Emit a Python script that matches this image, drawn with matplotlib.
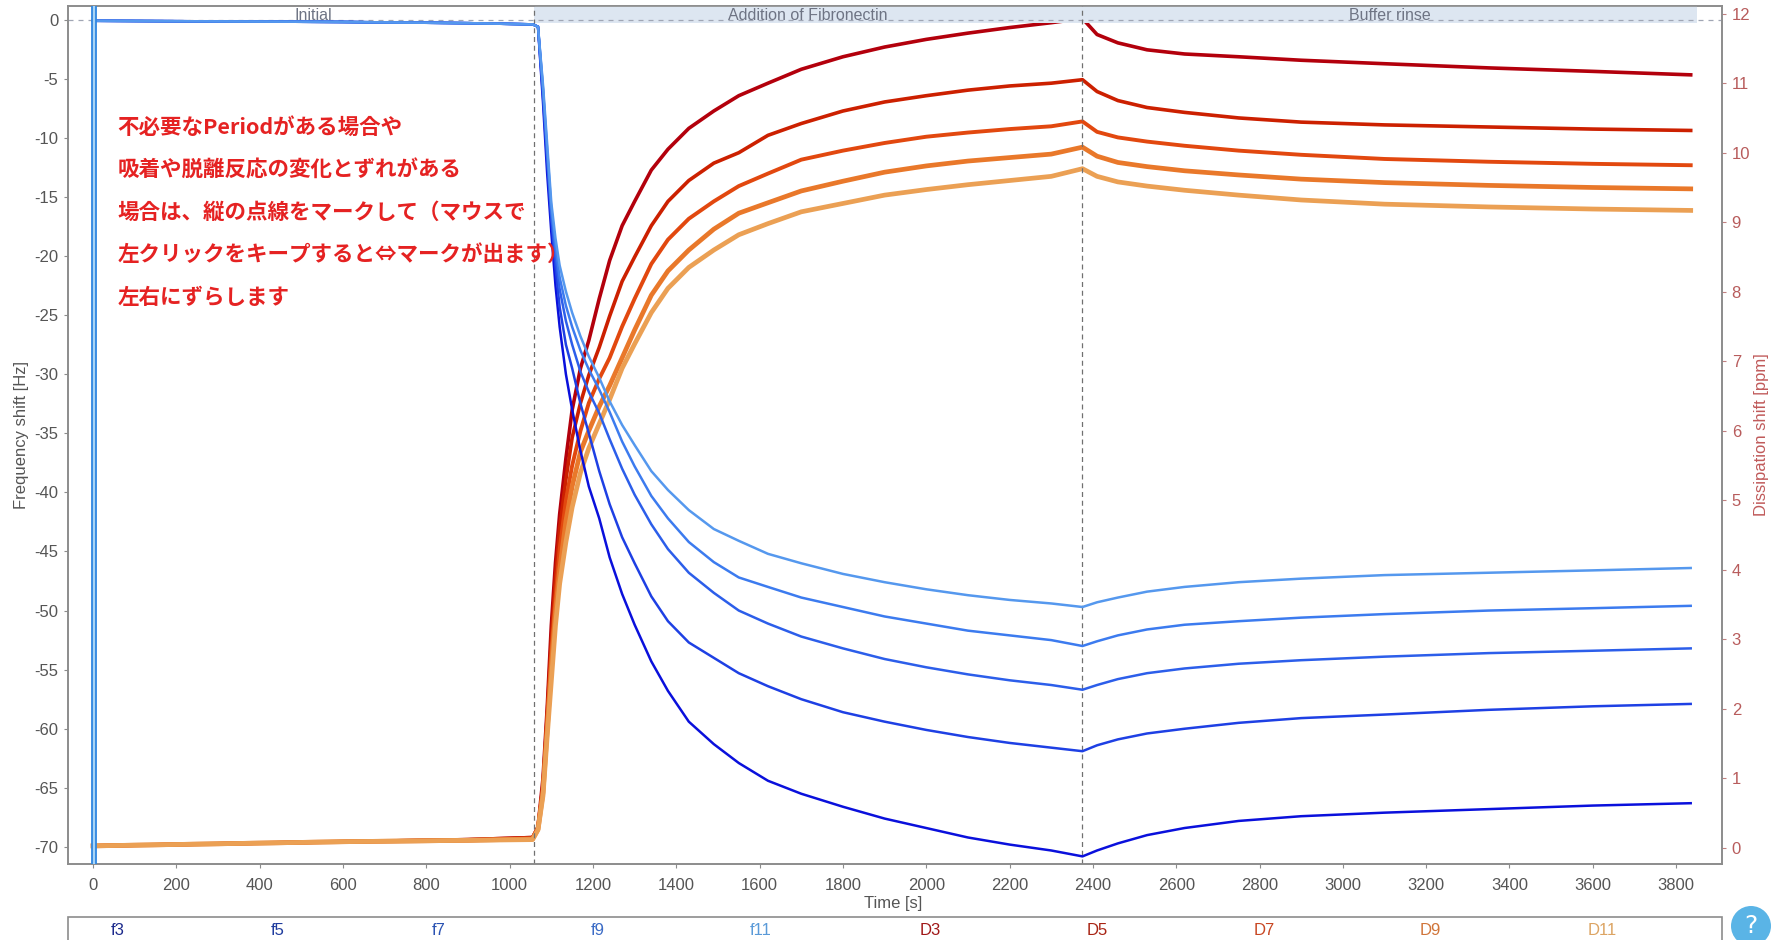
import matplotlib
matplotlib.use('Agg')
import matplotlib.pyplot as plt
from matplotlib.patches import Rectangle, Circle

# ---- data ----
time_s = [0, 300, 600, 900, 1055, 1068, 1080, 1090, 1100, 1110, 1120, 1135, 1150, 1170, 1190,
          1215, 1240, 1270, 1300, 1340, 1380, 1430, 1490, 1550, 1620, 1700, 1800, 1900, 2000,
          2100, 2200, 2300, 2375, 2410, 2460, 2530, 2620, 2750, 2900, 3100, 3350, 3600, 3835]

f3 = [-0.1, -0.15, -0.2, -0.3, -0.4, -0.6, -7.0, -13.0, -18.0, -22.5, -26.0, -30.0, -33.0, -36.5, -39.5,
      -42.2, -45.5, -48.6, -51.2, -54.3, -56.8, -59.4, -61.3, -62.9, -64.4, -65.5, -66.6, -67.6, -68.4,
      -69.2, -69.8, -70.3, -70.8, -70.3, -69.7, -69.0, -68.4, -67.8, -67.4, -67.1, -66.8, -66.5, -66.3]
f5 = [-0.1, -0.15, -0.2, -0.3, -0.4, -0.6, -6.5, -12.0, -17.0, -21.0, -24.3, -27.5, -29.5, -32.5, -35.0,
      -38.2, -41.0, -43.8, -46.0, -48.8, -50.9, -52.7, -54.0, -55.3, -56.4, -57.5, -58.6, -59.4, -60.1,
      -60.7, -61.2, -61.6, -61.9, -61.4, -60.9, -60.4, -60.0, -59.5, -59.1, -58.8, -58.4, -58.1, -57.9]
f7 = [-0.1, -0.15, -0.2, -0.3, -0.4, -0.6, -6.0, -11.5, -16.5, -20.0, -22.8, -25.5, -27.5, -29.8, -31.5,
      -33.3, -35.5, -38.0, -40.2, -42.7, -44.8, -46.8, -48.5, -50.0, -51.1, -52.2, -53.2, -54.1, -54.8,
      -55.4, -55.9, -56.3, -56.7, -56.3, -55.8, -55.3, -54.9, -54.5, -54.2, -53.9, -53.6, -53.4, -53.2]
f9 = [-0.1, -0.15, -0.2, -0.3, -0.4, -0.6, -5.8, -11.0, -16.0, -19.2, -21.8, -24.2, -26.0, -28.0, -29.6,
      -31.3, -33.2, -35.7, -37.8, -40.3, -42.2, -44.2, -45.9, -47.2, -48.0, -48.9, -49.7, -50.5, -51.1,
      -51.7, -52.1, -52.5, -53.0, -52.6, -52.1, -51.6, -51.2, -50.9, -50.6, -50.3, -50.0, -49.8, -49.6]
f11 = [-0.1, -0.15, -0.2, -0.3, -0.4, -0.6, -5.5, -10.5, -15.5, -18.5, -20.8, -23.0, -24.8, -26.8, -28.5,
       -30.3, -32.3, -34.3, -36.0, -38.2, -39.8, -41.5, -43.1, -44.1, -45.2, -46.0, -46.9, -47.6, -48.2,
       -48.7, -49.1, -49.4, -49.7, -49.3, -48.9, -48.4, -48.0, -47.6, -47.3, -47.0, -46.8, -46.6, -46.4]

D3 = [0.03, 0.06, 0.09, 0.12, 0.15, 0.3, 1.0, 2.0, 3.2, 4.1, 4.8, 5.6, 6.3, 6.9, 7.3,
      7.9, 8.45, 8.95, 9.3, 9.75, 10.05, 10.35, 10.6, 10.82, 11.0, 11.2, 11.38, 11.52, 11.63,
      11.72, 11.8, 11.87, 11.93, 11.7, 11.58, 11.48, 11.42, 11.38, 11.33, 11.28, 11.22, 11.17, 11.12]
D5 = [0.03, 0.06, 0.09, 0.12, 0.15, 0.3, 0.9, 1.9, 3.0, 3.9, 4.6, 5.3, 5.9, 6.4, 6.8,
      7.2, 7.65, 8.15, 8.5, 8.95, 9.3, 9.6, 9.85, 10.0, 10.25, 10.42, 10.6, 10.73, 10.82,
      10.9, 10.96, 11.0, 11.05, 10.88, 10.75, 10.65, 10.58, 10.5, 10.44, 10.4, 10.37, 10.34, 10.32]
D7 = [0.03, 0.06, 0.09, 0.11, 0.13, 0.28, 0.85, 1.8, 2.8, 3.6, 4.3, 5.0, 5.5, 6.0, 6.4,
      6.75, 7.05, 7.5, 7.9, 8.4, 8.75, 9.05, 9.3, 9.52, 9.7, 9.9, 10.03, 10.14, 10.23,
      10.29, 10.34, 10.38, 10.45, 10.3, 10.22, 10.16, 10.1, 10.03, 9.97, 9.91, 9.87, 9.84, 9.82]
D9 = [0.03, 0.06, 0.09, 0.11, 0.13, 0.27, 0.8, 1.7, 2.6, 3.4, 4.0, 4.7, 5.2, 5.7, 6.0,
      6.35, 6.65, 7.05, 7.45, 7.95, 8.3, 8.6, 8.9, 9.13, 9.28, 9.45, 9.59, 9.72, 9.81,
      9.88, 9.93, 9.98, 10.08, 9.95, 9.86, 9.8, 9.74, 9.68, 9.62, 9.57, 9.53, 9.5, 9.48]
D11 = [0.03, 0.06, 0.09, 0.11, 0.12, 0.26, 0.75, 1.6, 2.4, 3.2, 3.8, 4.4, 4.9, 5.4, 5.75,
       6.1, 6.45, 6.9, 7.25, 7.7, 8.05, 8.35, 8.6, 8.82, 8.98, 9.15, 9.27, 9.39, 9.47,
       9.54, 9.6, 9.66, 9.77, 9.66, 9.58, 9.52, 9.46, 9.39, 9.32, 9.26, 9.22, 9.19, 9.17]

period_edges = [0, 1058, 2375, 3850]
period_names = ['Initial', 'Addition of Fibronectin', 'Buffer rinse']

freq_names = ['f3', 'f5', 'f7', 'f9', 'f11']
freq_series = [f3, f5, f7, f9, f11]
freq_colors = ['#0a10dc', '#1e40e4', '#2c5eea', '#3c7bef', '#5598ee']
freq_label_colors = ['#1c2a8c', '#1f3c9e', '#2a52b2', '#3c6cc6', '#5a9ad8']

diss_names = ['D3', 'D5', 'D7', 'D9', 'D11']
diss_series = [D3, D5, D7, D9, D11]
diss_colors = ['#b3000c', '#cc2000', '#e2480f', '#e9782a', '#eba054']
diss_widths = [2.6, 2.6, 2.8, 3.4, 3.4]
diss_label_colors = ['#a01818', '#a82414', '#c84622', '#d0753a', '#dca463']

note_lines = ['不必要なPeriodがある場合や',
              '吸着や脱離反応の変化とずれがある',
              '場合は、縦の点線をマークして（マウスで',
              '左クリックをキープすると⇔マークが出ます）',
              '左右にずらします']

plt.rcParams['font.family'] = ['Liberation Sans', 'DejaVu Sans']
plt.rcParams['axes.unicode_minus'] = False

fig = plt.figure(figsize=(17.82, 9.4), dpi=100)
ax = fig.add_axes([0.0382, 0.0809, 0.9281, 0.9127])
ax2 = ax.twinx()

ax.set_xlim(-60, 3910)
ax.set_ylim(-71.44, 1.15)
ax2.set_ylim(-0.23, 12.11)

# period header band and markers
ax.axvspan(period_edges[1], period_edges[3], ymin=0.98, ymax=1.0, color='#dde6f1', lw=0, zorder=0)
ax.axhline(0, color='#a0a6b4', ls=(0, (4, 4)), lw=0.9, zorder=1)
for e in period_edges[1:3]:
    ax.axvline(e, color='#707070', ls=(0, (4, 3)), lw=0.9, zorder=1)
for i, name in enumerate(period_names):
    ax.text((period_edges[i] + period_edges[i + 1]) / 2, 0.9895, name, transform=ax.get_xaxis_transform(),
            ha='center', va='center', fontsize=11.5, color='#6e7484')

# curves
for s, c, w in zip(diss_series, diss_colors, diss_widths):
    ax2.plot(time_s, s, color=c, lw=w, zorder=2)
for s, c in zip(freq_series, freq_colors):
    ax.plot(time_s, s, color=c, lw=1.8, zorder=3)
ax.set_zorder(ax2.get_zorder() + 1)
ax.patch.set_visible(False)

# cursor lines at t=0
ax.axvspan(-3, 7, color='#a8d4f5', lw=0, zorder=4)
ax.axvline(-3, color='#2f86e0', lw=1.3, zorder=4)
ax.axvline(7, color='#2f86e0', lw=1.3, zorder=4)

# annotation
for i, line in enumerate(note_lines):
    ax.text(0.030, 0.858 - i * 0.0493, line, transform=ax.transAxes, ha='left', va='center',
            fontsize=15.5, fontweight='bold', color='#e52222',
            family=['Noto Sans CJK JP', 'DejaVu Sans'], zorder=6)

# axes styling
ax.set_xticks(range(0, 3801, 200))
ax.set_yticks(range(-70, 1, 5))
ax2.set_yticks(range(0, 13))
for a in (ax, ax2):
    for sp in a.spines.values():
        sp.set_color('#8c8c8c')
        sp.set_linewidth(1.2)
ax.tick_params(axis='both', length=3, color='#8c8c8c', labelcolor='#555555', labelsize=12, pad=4)
ax.tick_params(axis='x', pad=7)
ax2.tick_params(axis='y', length=3, color='#c08080', labelcolor='#b85c5c', labelsize=12, pad=4)

ax.set_xlabel('Time [s]', fontsize=12, color='#555555')
ax.xaxis.set_label_coords(0.499, -0.0373)
ax.set_ylabel('Frequency shift [Hz]', fontsize=12, color='#555555')
ax.yaxis.set_label_coords(-0.0235, 0.5)
ax2.set_ylabel('Dissipation shift [ppm]', fontsize=12, color='#c05a5a')
ax2.yaxis.set_label_coords(1.0195, 0.5)

# legend strip below the plot
fig.add_artist(Rectangle((68 / 1782, -0.02), (1722 - 68) / 1782, 0.0445, transform=fig.transFigure,
                         facecolor='white', edgecolor='#8c8c8c', lw=1.2))
legend_x = [118, 278, 439, 598, 761, 930, 1097, 1264, 1430, 1602]
for x, name, c in zip(legend_x, freq_names + diss_names, freq_label_colors + diss_label_colors):
    fig.text(x / 1782, 0.0096, name, ha='center', va='center', fontsize=12, color=c)

# help button
fig.add_artist(Circle((17.51, 0.14), 0.2, transform=fig.dpi_scale_trans, facecolor='#5ab4e6',
                      edgecolor='none'))
fig.text(17.51 / 17.82, 0.14 / 9.4, '?', ha='center', va='center', fontsize=18, color='white',
         family=['DejaVu Sans'])

fig.savefig('out.png', dpi=100)
